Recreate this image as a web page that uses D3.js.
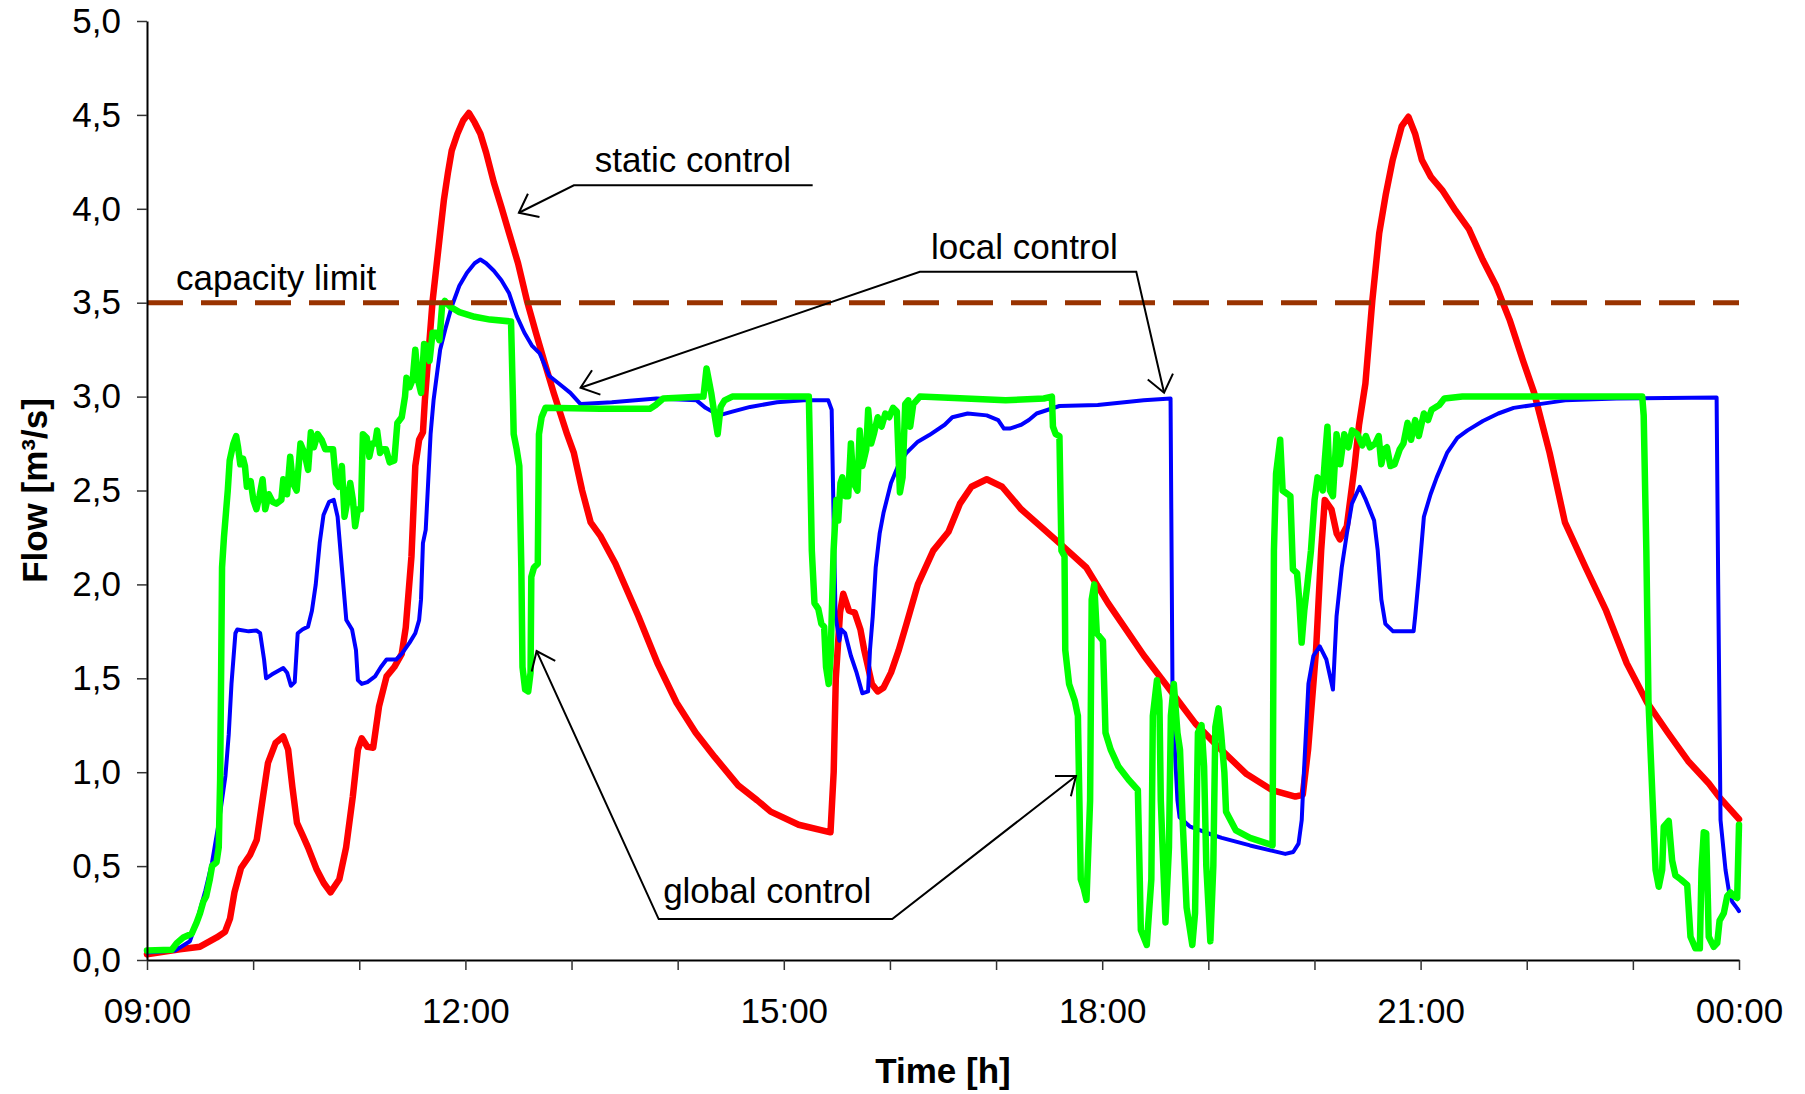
<!DOCTYPE html>
<html>
<head>
<meta charset="utf-8">
<script src="https://cdn.jsdelivr.net/npm/d3@7"></script>
<style>
  body { margin: 0; background: #fff; }
  svg text { font-family: "Liberation Sans", Arial, sans-serif; }
</style>
</head>
<body>
<div id="chart"></div>
<script>
// axis ticks (hours after 09:00) and labels
var hourTicks = d3.range(0, 16);
var labelHours = [0, 3, 6, 9, 12, 15];
var labelTexts = ['09:00', '12:00', '15:00', '18:00', '21:00', '00:00'];
var flowTicks = d3.range(0, 11).map(function(i) { return i / 2; });
var capacityLimit = 3.5;

// static control (red)
var staticTime = [0, 0.31, 0.5, 0.657, 0.735, 0.782, 0.824, 0.886, 0.971, 1.034, 1.08, 1.14, 1.211, 1.284, 1.33, 1.37, 1.413, 1.47, 1.517, 1.6, 1.665, 1.729, 1.812, 1.876, 1.939, 1.987, 2.023, 2.077, 2.131, 2.186, 2.257, 2.33, 2.4, 2.438, 2.492, 2.528, 2.564, 2.6, 2.618, 2.691, 2.762, 2.798, 2.835, 2.871, 2.925, 2.979, 3.033, 3.087, 3.141, 3.195, 3.268, 3.339, 3.412, 3.496, 3.58, 3.664, 3.747, 3.832, 3.958, 4.022, 4.1, 4.18, 4.27, 4.414, 4.63, 4.81, 4.99, 5.17, 5.35, 5.57, 5.75, 5.876, 6.14, 6.44, 6.47, 6.49, 6.53, 6.56, 6.614, 6.668, 6.722, 6.758, 6.83, 6.885, 6.939, 7.01, 7.083, 7.156, 7.263, 7.408, 7.552, 7.66, 7.768, 7.912, 8.057, 8.237, 8.417, 8.597, 8.85, 9.055, 9.394, 9.636, 9.877, 10.12, 10.36, 10.6, 10.82, 10.89, 10.94, 11.015, 11.063, 11.097, 11.16, 11.21, 11.24, 11.305, 11.378, 11.42, 11.48, 11.545, 11.61, 11.673, 11.737, 11.822, 11.885, 11.948, 12.012, 12.097, 12.203, 12.33, 12.457, 12.584, 12.711, 12.838, 12.966, 13.07, 13.216, 13.36, 13.555, 13.748, 13.942, 14.135, 14.33, 14.52, 14.716, 14.81, 15];
var staticFlow = [0.03, 0.057, 0.071, 0.12, 0.15, 0.22, 0.36, 0.49, 0.56, 0.64, 0.82, 1.05, 1.155, 1.19, 1.12, 0.92, 0.73, 0.66, 0.6, 0.48, 0.41, 0.36, 0.43, 0.6, 0.87, 1.12, 1.18, 1.135, 1.13, 1.35, 1.51, 1.56, 1.63, 1.77, 2.15, 2.63, 2.77, 2.81, 2.98, 3.51, 3.87, 4.05, 4.19, 4.31, 4.4, 4.47, 4.51, 4.46, 4.4, 4.3, 4.14, 4.01, 3.87, 3.71, 3.51, 3.34, 3.18, 3.02, 2.8, 2.7, 2.5, 2.33, 2.26, 2.11, 1.83, 1.58, 1.37, 1.21, 1.08, 0.93, 0.85, 0.79, 0.72, 0.68, 1.0, 1.5, 1.85, 1.95, 1.86, 1.85, 1.76, 1.65, 1.47, 1.43, 1.45, 1.53, 1.65, 1.79, 2.0, 2.18, 2.28, 2.43, 2.52, 2.56, 2.52, 2.4, 2.31, 2.22, 2.09, 1.9, 1.62, 1.44, 1.26, 1.12, 0.99, 0.905, 0.87, 0.88, 1.12, 1.65, 2.18, 2.45, 2.4, 2.27, 2.24, 2.31, 2.63, 2.85, 3.07, 3.51, 3.87, 4.08, 4.26, 4.44, 4.49, 4.4, 4.26, 4.17, 4.1, 3.99, 3.89, 3.73, 3.59, 3.41, 3.19, 3.02, 2.7, 2.33, 2.09, 1.86, 1.58, 1.37, 1.21, 1.06, 0.94, 0.87, 0.75];

// local control (blue)
var localTime = [0, 0.264, 0.405, 0.466, 0.55, 0.613, 0.676, 0.739, 0.77, 0.796, 0.833, 0.851, 0.959, 1.03, 1.066, 1.103, 1.122, 1.175, 1.284, 1.32, 1.356, 1.392, 1.42, 1.464, 1.517, 1.554, 1.59, 1.627, 1.663, 1.716, 1.76, 1.796, 1.836, 1.878, 1.932, 1.969, 1.987, 2.023, 2.077, 2.149, 2.204, 2.257, 2.348, 2.4, 2.474, 2.528, 2.564, 2.582, 2.6, 2.626, 2.647, 2.672, 2.7, 2.762, 2.816, 2.871, 2.943, 3.015, 3.087, 3.141, 3.195, 3.268, 3.339, 3.412, 3.483, 3.556, 3.629, 3.7, 3.791, 3.88, 3.989, 4.085, 4.379, 4.8, 5.178, 5.263, 5.389, 5.515, 5.683, 5.936, 6.188, 6.419, 6.451, 6.469, 6.488, 6.524, 6.542, 6.578, 6.632, 6.686, 6.74, 6.794, 6.812, 6.838, 6.866, 6.903, 6.939, 7.01, 7.083, 7.156, 7.263, 7.371, 7.516, 7.588, 7.732, 7.912, 8.02, 8.074, 8.129, 8.237, 8.309, 8.382, 8.49, 8.597, 8.958, 9.391, 9.644, 9.662, 9.684, 9.709, 9.729, 9.829, 9.994, 10.127, 10.393, 10.725, 10.8, 10.85, 10.88, 10.897, 10.928, 10.943, 10.99, 11.05, 11.112, 11.174, 11.208, 11.257, 11.305, 11.353, 11.426, 11.484, 11.562, 11.596, 11.63, 11.668, 11.741, 11.934, 11.949, 11.983, 12.031, 12.094, 12.152, 12.249, 12.346, 12.442, 12.587, 12.732, 12.877, 13.119, 13.362, 13.845, 14.789, 14.804, 14.826, 14.873, 14.904, 14.936, 14.983, 15];
var localFlow = [0.04, 0.05, 0.1, 0.2, 0.37, 0.52, 0.73, 0.98, 1.2, 1.47, 1.74, 1.76, 1.75, 1.755, 1.74, 1.6, 1.5, 1.52, 1.555, 1.53, 1.46, 1.48, 1.74, 1.76, 1.775, 1.86, 2.0, 2.22, 2.37, 2.44, 2.45, 2.36, 2.09, 1.81, 1.76, 1.65, 1.49, 1.47, 1.48, 1.51, 1.56, 1.6, 1.6, 1.63, 1.69, 1.74, 1.81, 1.92, 2.22, 2.29, 2.52, 2.8, 2.98, 3.25, 3.37, 3.48, 3.59, 3.66, 3.71, 3.73, 3.71, 3.67, 3.62, 3.55, 3.43, 3.34, 3.27, 3.23, 3.11, 3.07, 3.02, 2.96, 2.97, 2.99, 2.98, 2.94, 2.9, 2.92, 2.945, 2.97, 2.98, 2.98, 2.93, 2.36, 1.83, 1.7, 1.76, 1.74, 1.62, 1.53, 1.42, 1.43, 1.65, 1.83, 2.09, 2.27, 2.38, 2.54, 2.64, 2.7, 2.76, 2.795, 2.85, 2.89, 2.91, 2.9, 2.875, 2.83, 2.83, 2.85, 2.875, 2.91, 2.93, 2.95, 2.955, 2.98, 2.99, 1.47, 1.12, 0.85, 0.76, 0.71, 0.675, 0.65, 0.61, 0.565, 0.575, 0.62, 0.745, 0.96, 1.3, 1.47, 1.62, 1.67, 1.6, 1.44, 1.83, 2.09, 2.27, 2.43, 2.52, 2.45, 2.34, 2.18, 1.92, 1.79, 1.75, 1.75, 1.83, 2.04, 2.36, 2.48, 2.57, 2.7, 2.78, 2.82, 2.87, 2.91, 2.94, 2.96, 2.98, 2.99, 2.995, 2.0, 0.745, 0.48, 0.37, 0.31, 0.275, 0.26];

// global control (green)
var globalTime = [0, 0.233, 0.28, 0.342, 0.421, 0.468, 0.5, 0.53, 0.558, 0.592, 0.613, 0.655, 0.676, 0.689, 0.699, 0.707, 0.725, 0.761, 0.779, 0.814, 0.84, 0.858, 0.879, 0.905, 0.923, 0.941, 0.977, 1.002, 1.031, 1.06, 1.089, 1.114, 1.147, 1.183, 1.219, 1.266, 1.284, 1.32, 1.349, 1.374, 1.41, 1.446, 1.483, 1.518, 1.544, 1.572, 1.608, 1.645, 1.68, 1.753, 1.781, 1.807, 1.836, 1.861, 1.89, 1.915, 1.94, 1.961, 1.987, 2.016, 2.034, 2.07, 2.095, 2.121, 2.149, 2.168, 2.196, 2.221, 2.251, 2.287, 2.33, 2.359, 2.4, 2.431, 2.445, 2.474, 2.503, 2.528, 2.553, 2.582, 2.611, 2.636, 2.662, 2.691, 2.727, 2.755, 2.78, 2.806, 2.853, 2.943, 3.087, 3.232, 3.43, 3.448, 3.455, 3.483, 3.508, 3.527, 3.538, 3.563, 3.592, 3.614, 3.621, 3.646, 3.682, 3.693, 3.718, 3.755, 4.27, 4.739, 4.793, 4.864, 5.243, 5.272, 5.316, 5.351, 5.377, 5.405, 5.442, 5.514, 6.236, 6.246, 6.264, 6.289, 6.325, 6.354, 6.38, 6.398, 6.423, 6.441, 6.469, 6.495, 6.513, 6.534, 6.552, 6.578, 6.607, 6.632, 6.657, 6.694, 6.715, 6.74, 6.777, 6.795, 6.823, 6.848, 6.885, 6.921, 6.957, 6.993, 7.029, 7.065, 7.094, 7.119, 7.144, 7.173, 7.191, 7.22, 7.282, 8.09, 8.45, 8.526, 8.536, 8.562, 8.597, 8.616, 8.645, 8.652, 8.688, 8.742, 8.771, 8.798, 8.827, 8.852, 8.886, 8.901, 8.925, 8.949, 9.007, 9.031, 9.08, 9.153, 9.249, 9.336, 9.364, 9.42, 9.463, 9.477, 9.516, 9.539, 9.552, 9.596, 9.629, 9.647, 9.675, 9.709, 9.733, 9.762, 9.795, 9.849, 9.875, 9.902, 9.936, 9.96, 9.981, 10.019, 10.047, 10.066, 10.096, 10.12, 10.151, 10.167, 10.26, 10.393, 10.559, 10.605, 10.618, 10.638, 10.677, 10.7, 10.773, 10.797, 10.836, 10.856, 10.879, 10.904, 10.933, 10.967, 11.001, 11.029, 11.049, 11.078, 11.097, 11.122, 11.146, 11.174, 11.208, 11.242, 11.281, 11.32, 11.354, 11.403, 11.451, 11.485, 11.523, 11.572, 11.605, 11.63, 11.659, 11.683, 11.716, 11.755, 11.804, 11.838, 11.877, 11.91, 11.949, 11.983, 12.031, 12.07, 12.104, 12.176, 12.224, 12.394, 14.088, 14.102, 14.127, 14.147, 14.186, 14.214, 14.244, 14.276, 14.291, 14.338, 14.37, 14.401, 14.449, 14.512, 14.543, 14.59, 14.631, 14.647, 14.668, 14.691, 14.715, 14.762, 14.795, 14.817, 14.857, 14.889, 14.92, 14.951, 14.983, 15];
var globalFlow = [0.05, 0.055, 0.09, 0.12, 0.14, 0.2, 0.25, 0.31, 0.34, 0.43, 0.5, 0.52, 0.6, 0.96, 1.56, 2.09, 2.25, 2.5, 2.66, 2.75, 2.79, 2.73, 2.64, 2.67, 2.63, 2.52, 2.55, 2.45, 2.4, 2.47, 2.56, 2.4, 2.48, 2.44, 2.43, 2.45, 2.56, 2.48, 2.68, 2.54, 2.5, 2.75, 2.7, 2.61, 2.81, 2.73, 2.8, 2.77, 2.72, 2.72, 2.54, 2.52, 2.63, 2.36, 2.45, 2.54, 2.45, 2.31, 2.4, 2.4, 2.8, 2.78, 2.68, 2.75, 2.75, 2.82, 2.7, 2.72, 2.72, 2.65, 2.66, 2.86, 2.89, 3.0, 3.1, 3.05, 3.09, 3.25, 3.09, 3.02, 3.28, 3.27, 3.19, 3.34, 3.34, 3.3, 3.48, 3.51, 3.48, 3.45, 3.425, 3.41, 3.4, 2.98, 2.8, 2.72, 2.63, 2.09, 1.56, 1.44, 1.43, 1.53, 2.04, 2.09, 2.11, 2.8, 2.89, 2.94, 2.935, 2.935, 2.955, 2.99, 3.0, 3.15, 3.02, 2.89, 2.8, 2.945, 2.98, 3.0, 3.0, 2.72, 2.18, 1.9, 1.87, 1.79, 1.775, 1.56, 1.47, 1.62, 2.18, 2.45, 2.34, 2.54, 2.57, 2.47, 2.47, 2.75, 2.54, 2.5, 2.82, 2.63, 2.72, 2.93, 2.75, 2.8, 2.89, 2.84, 2.91, 2.89, 2.94, 2.92, 2.49, 2.57, 2.96, 2.98, 2.84, 2.96, 3.0, 2.98, 2.99, 3.0, 2.84, 2.8, 2.79, 2.18, 2.15, 1.65, 1.47, 1.38, 1.3, 0.43, 0.38, 0.32, 0.85, 1.92, 2.0, 1.74, 1.7, 1.21, 1.12, 1.03, 0.96, 0.905, 0.16, 0.08, 0.43, 1.3, 1.49, 1.38, 0.85, 0.2, 0.6, 1.3, 1.47, 1.21, 1.12, 0.69, 0.28, 0.08, 0.25, 1.21, 1.25, 1.03, 0.5, 0.1, 0.5, 1.24, 1.34, 1.21, 1.0, 0.79, 0.69, 0.65, 0.62, 0.61, 2.18, 2.59, 2.77, 2.5, 2.47, 2.08, 2.06, 1.92, 1.69, 1.86, 2.0, 2.18, 2.45, 2.57, 2.54, 2.5, 2.66, 2.84, 2.5, 2.47, 2.8, 2.64, 2.8, 2.73, 2.82, 2.8, 2.74, 2.79, 2.73, 2.75, 2.79, 2.64, 2.72, 2.73, 2.63, 2.64, 2.72, 2.75, 2.86, 2.77, 2.875, 2.79, 2.91, 2.875, 2.93, 2.955, 2.99, 3.0, 3.0, 2.9, 2.18, 1.38, 0.85, 0.48, 0.39, 0.48, 0.71, 0.74, 0.53, 0.45, 0.43, 0.4, 0.124, 0.062, 0.062, 0.48, 0.68, 0.675, 0.124, 0.07, 0.09, 0.21, 0.25, 0.34, 0.36, 0.34, 0.33, 0.72];

var w = 1805;
var h = 1094;
var margin = { top: 21, right: 66, bottom: 134, left: 147 };

var x = d3.scaleLinear()
  .domain([0, 15])
  .range([margin.left, w - margin.right]);

var y = d3.scaleLinear()
  .domain([0, 5])
  .range([h - margin.bottom, margin.top]);

var commaFormat = d3.formatLocale({ decimal: ',', thousands: '.', grouping: [3], currency: ['', ''] }).format('.1f');

var svg = d3.select('#chart')
  .append('svg')
    .attr('width', w)
    .attr('height', h)
    .style('background', '#fff');

function zip(ts, vs) {
  return ts.map(function(t, i) { return [t, vs[i]]; });
}

var line = d3.line()
  .x(function(d) { return x(d[0]); })
  .y(function(d) { return y(d[1]); });

// series, bottom to top: red, blue, green
var series = [
  { data: zip(staticTime, staticFlow), color: '#ff0000', width: 6.5 },
  { data: zip(localTime, localFlow), color: '#0000ff', width: 4 },
  { data: zip(globalTime, globalFlow), color: '#00ff00', width: 6.5 }
];

svg.selectAll('.series')
  .data(series)
  .enter()
  .append('path')
    .attr('class', 'series')
    .attr('d', function(d) { return line(d.data); })
    .attr('fill', 'none')
    .attr('stroke', function(d) { return d.color; })
    .attr('stroke-width', function(d) { return d.width; })
    .attr('stroke-linejoin', 'round')
    .attr('stroke-linecap', 'round');

// capacity limit (dashed)
svg.append('path')
  .attr('d', line([[0, capacityLimit], [15, capacityLimit]]))
  .attr('fill', 'none')
  .attr('stroke', '#993300')
  .attr('stroke-width', 5)
  .attr('stroke-dasharray', '36,18');

// axes
var xAxis = d3.axisBottom(x)
  .tickValues(hourTicks)
  .tickSize(10)
  .tickSizeOuter(0)
  .tickPadding(28)
  .tickFormat(function(d) {
    var i = labelHours.indexOf(d);
    return i < 0 ? '' : labelTexts[i];
  });

var yAxis = d3.axisLeft(y)
  .tickValues(flowTicks)
  .tickSize(10)
  .tickSizeOuter(0)
  .tickPadding(16)
  .tickFormat(commaFormat);

var gx = svg.append('g')
  .attr('transform', 'translate(0,' + (h - margin.bottom) + ')')
  .call(xAxis);

var gy = svg.append('g')
  .attr('transform', 'translate(' + margin.left + ',0)')
  .call(yAxis);

[gx, gy].forEach(function(g) {
  g.attr('font-family', null).attr('font-size', null);
  g.select('.domain').attr('stroke', '#000').attr('stroke-width', 2);
  g.selectAll('.tick line').attr('stroke', '#333').attr('stroke-width', 1.5);
  g.selectAll('.tick text')
    .attr('fill', '#000')
    .style('font-size', '35px')
    .style('font-family', '"Liberation Sans", Arial, sans-serif');
});

// axis titles
svg.append('text')
  .attr('transform', 'translate(47,' + ((margin.top + h - margin.bottom) / 2) + ') rotate(-90)')
  .attr('text-anchor', 'middle')
  .style('font-size', '35px')
  .style('font-weight', 'bold')
  .text('Flow [m\u00b3/s]');

svg.append('text')
  .attr('x', (margin.left + w - margin.right) / 2)
  .attr('y', 1083)
  .attr('text-anchor', 'middle')
  .style('font-size', '35px')
  .style('font-weight', 'bold')
  .text('Time [h]');

// annotations (positions in data units)
var notes = [
  { text: 'capacity limit', at: [0.273, 3.568], path: [] , arrows: [] },
  { text: 'static control', at: [4.218, 4.196], path: [[6.272, 4.125], [4.022, 4.125], [3.504, 3.979]], arrows: ['end'] },
  { text: 'local control', at: [7.387, 3.731], path: [[4.085, 3.047], [7.282, 3.665], [9.321, 3.665], [9.583, 3.021]], arrows: ['start', 'end'] },
  { text: 'global control', at: [4.863, 0.304], path: [[3.671, 1.645], [4.821, 0.218], [7.022, 0.218], [8.753, 0.98]], arrows: ['start', 'end'] }
];

function arrowHead(tip, from) {
  var ang = Math.atan2(from[1] - tip[1], from[0] - tip[0]);
  var len = 21, spread = 38 * Math.PI / 180;
  var a = [tip[0] + len * Math.cos(ang - spread), tip[1] + len * Math.sin(ang - spread)];
  var b = [tip[0] + len * Math.cos(ang + spread), tip[1] + len * Math.sin(ang + spread)];
  return 'M' + a + 'L' + tip + 'L' + b;
}

notes.forEach(function(n) {
  svg.append('text')
    .attr('x', x(n.at[0]))
    .attr('y', y(n.at[1]))
    .style('font-size', '35px')
    .attr('fill', '#000')
    .text(n.text);

  if (!n.path.length) return;
  var pts = n.path.map(function(p) { return [x(p[0]), y(p[1])]; });
  svg.append('path')
    .attr('d', 'M' + pts.join('L'))
    .attr('fill', 'none')
    .attr('stroke', '#000')
    .attr('stroke-width', 2);

  n.arrows.forEach(function(which) {
    var tip = which === 'end' ? pts[pts.length - 1] : pts[0];
    var from = which === 'end' ? pts[pts.length - 2] : pts[1];
    svg.append('path')
      .attr('d', arrowHead(tip, from))
      .attr('fill', 'none')
      .attr('stroke', '#000')
      .attr('stroke-width', 2);
  });
});
</script>
</body>
</html>
